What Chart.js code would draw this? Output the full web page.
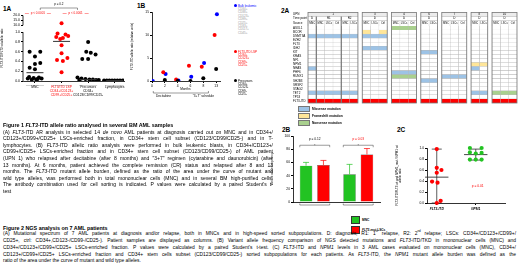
<!DOCTYPE html>
<html>
<head>
<meta charset="utf-8">
<script src="https://cdn.jsdelivr.net/npm/chart.js@4.4.1/dist/chart.umd.min.js"></script>
<style>
  body { margin:0; width:520px; height:268px; position:relative; overflow:hidden; background:#fff;
         font-family:"Liberation Sans", Arial, sans-serif; color:#000; }
  canvas { position:absolute; }
  .lbl { position:absolute; font-weight:bold; font-size:6.5px; line-height:7px; }
  .leg { position:absolute; font-size:3px; line-height:3.4px; white-space:nowrap; }
  .dot { display:inline-block; width:3px; height:3px; border-radius:50%; margin-right:1px; vertical-align:-0.5px; }
  .row { position:absolute; font-size:3.2px; line-height:6px; white-space:nowrap; font-weight:bold; }
  .box { display:inline-block; width:10px; height:4px; border:0.5px solid #777; margin-right:2px; vertical-align:middle; }
  .sq { display:inline-block; width:7px; height:6px; border:0.5px solid #333; margin-right:2px; vertical-align:middle; }
  .cap { position:absolute; font-size:5px; }
  .cap div { text-align:justify; text-align-last:justify; white-space:nowrap; overflow:visible; }
  .cap div.h { text-align-last:left; font-weight:bold; font-size:5.4px; }
  .cap div.e { text-align-last:left; }
  sup { font-size:3px; line-height:0; }
</style>
</head>
<body>
<div class="lbl" style="left:3px;top:5px">1A</div>
<div class="lbl" style="left:137px;top:2px">1B</div>
<div class="lbl" style="left:281px;top:7px">2A</div>
<div class="lbl" style="left:282px;top:126px">2B</div>
<div class="lbl" style="left:397px;top:126px">2C</div>

<canvas id="c1a" width="128" height="100" style="left:0;top:0"></canvas>
<canvas id="c1b" width="100" height="100" style="left:130px;top:0"></canvas>
<canvas id="c2a" width="240" height="110" style="left:280px;top:0"></canvas>
<canvas id="c2b" width="115" height="90" style="left:270px;top:125px"></canvas>
<canvas id="c2c" width="120" height="90" style="left:395px;top:125px"></canvas>

<div class="leg" style="left:234px;top:4px;color:#999">
  <span style="color:#00f"><span class="dot" style="background:#00f"></span>Bulk leukemic</span><br>
  <span style="padding-left:4px">CD34+</span><br><span style="padding-left:4px">CD38+</span><br>
  <span style="padding-left:4px">CD123+</span><br><span style="padding-left:4px">CD99+</span><br>
  <span style="padding-left:4px">CD25+</span><br><span style="padding-left:4px">CD33+</span><br>
  <span style="padding-left:4px">CD117+</span><br><span style="padding-left:4px">CD45+</span>
</div>
<div class="leg" style="left:234px;top:50px;color:#f00">
  <span class="dot" style="background:#f00"></span>FLT3-ITD LSP<br>
  <span style="padding-left:4px">CD34+</span><br><span style="padding-left:4px">CD123+</span><br>
  <span style="padding-left:4px">CD99+</span><br><span style="padding-left:4px">CD25+</span>
</div>
<div class="leg" style="left:234px;top:79px;color:#000">
  <span class="dot" style="background:#000"></span>Precursors<br>
  <span style="padding-left:4px">CD34+</span><br><span style="padding-left:4px">CD123-</span><br>
  <span style="padding-left:4px">CD99-</span><br><span style="padding-left:4px">CD25-</span>
</div>

<div class="row" style="left:298px;top:106px"><span class="box" style="background:#9dc3e6"></span>Missense mutation</div>
<div class="row" style="left:298px;top:113px"><span class="box" style="background:#ffe699"></span>Frameshift mutation</div>
<div class="row" style="left:298px;top:120px"><span class="box" style="background:#a9d08e"></span>Nonsense mutation</div>

<div class="row" style="left:351px;top:216px"><span class="sq" style="background:#22c322"></span>MNC</div>
<div class="row" style="left:351px;top:226px"><span class="sq" style="background:#ff0000"></span><i>FLT3</i>-mut LSCs</div>

<div class="cap" style="left:3px;top:122px;width:270px;line-height:6.6px">
<div class="h">Figure 1 <i>FLT3</i>-ITD allele ratio analysed in several BM AML samples</div>
<div>(A) <i>FLT3</i>-ITD AR analysis in selected 14 <i>de novo</i> AML patients at diagnosis carried out on MNC and in CD34+/</div>
<div>CD123+/CD99+/CD25+ LSCs-enriched fraction, in CD34+ stem cell subset (CD123/CD99/CD25-) and in T-</div>
<div>lymphocytes. (B) <i>FLT3</i>-ITD allelic ratio analysis were performed in bulk leukemic blasts, in CD34+/CD123+/</div>
<div>CD99+/CD25+ LSCs-enriched fraction and in CD34+ stem cell subset (CD123/CD99/CD25-) of AML patient</div>
<div>(UPN 1) who relapsed after decitabine (after 8 months) and "3+7" regimen (cytarabine and daunorubicin) (after</div>
<div>13 months). At 6 months, patient achieved the complete remission (CR) status and relapsed after 8 and 13</div>
<div>months. The <i>FLT3</i>-ITD mutant allele burden, defined as the ratio of the area under the curve of mutant and</div>
<div>wild type alleles, was performed both in total mononuclear cells (MNC) and in several BM high-purified cells.</div>
<div>The antibody combination used for cell sorting is indicated. P values were calculated by a paired Student's t-</div>
<div class="e">test</div>
</div>
<div class="cap" style="left:3px;top:224.5px;width:513px;line-height:6.8px;font-size:4.9px">
<div class="h">Figure 2 NGS analysis on 7 AML patients</div>
<div>(A) Mutational spectrum of 7 AML patients at diagnosis and/or relapse, both in MNCs and in high-speed sorted subpopulations. D: diagnosis, R1: 1<sup>st</sup> relapse, R2: 2<sup>nd</sup> relapse; LSCs: CD34+/CD123+/CD99+/</div>
<div>CD25+, ctrl: CD34+,CD123-/CD99-/CD25-). Patient samples are displayed as columns. (B) Variant allele frequency comparison of NGS detected mutations and <i>FLT3</i>-ITD/TKD in mononuclear cells (MNC) and</div>
<div>CD34+/CD123+/CD99+/CD25+ LSCs-enriched fraction. P values were calculated by a paired Student's t-test. (C) <i>FLT3</i>-ITD and <i>NPM1</i> levels in 3 AML cases evaluated on mononuclear cells (MNC), CD34+/</div>
<div>CD123+/CD99+/CD25+ LSCs-enriched fraction and CD34+ stem cells subset (CD123/CD99/CD25-) sorted subpopulations for each patients. As <i>FLT3</i>-ITD, the <i>NPM1</i> mutant allele burden was defined as the</div>
<div class="e">ratio of the area under the curve of mutant and wild type alleles.</div>
</div>

<script>
Chart.defaults.font.family = '"Liberation Sans", Arial, sans-serif';
Chart.defaults.font.size = 4;
Chart.defaults.color = '#000';
Chart.defaults.animation = false;
Chart.defaults.responsive = false;
Chart.defaults.devicePixelRatio = 1;
Chart.defaults.plugins.legend.display = false;
Chart.defaults.plugins.tooltip.enabled = false;
Chart.defaults.elements.point.borderWidth = 0;

// ---- 1A: FLT3-ITD allelic ratio by population ----
const groups1A = ['MNC', 'FLT3-ITD LSP', 'Precursors', 'Lymphocytes'];
const xLabels1A = [['MNC'], ['FLT3/ITD LSP', 'CD34+/CD123+', 'CD99+/CD25+'], ['Precursors', 'CD34+', 'CD123/CD99/CD25-'], ['Lymphocytes']];
const mnc1A = [0.60, 0.60, 0.50, 0.37, 0.35, 0.27, 0.24, 0.08, 0.07, 0.06, 0.05, 0.05, 0.04, 0.03, 0.03];
const mncJit1A = [-0.2, 0.2, 0, 0.2, 0, -0.2, 0, -0.22, 0.15, -0.05, 0.25, -0.27, 0.1, -0.12, 0.05];
const lsp1A = [12.0, 0.97, 0.95, 0.92, 0.90, 0.88, 0.86, 0.73, 0.57, 0.47, 0.43, 0.41, 0.18];
const lspJit1A = [0, -0.15, 0.15, 0.25, -0.2, 0.05, -0.05, 0, 0, 0.22, -0.17, 0.05, 0];
const pre1A = [0.80, 0.60, 0.58, 0.54, 0.45, 0.45, 0.07, 0.05, 0.04, 0.03, 0.03, 0.02, 0.02, 0.02];
const preJit1A = [0, -0.07, 0.1, 0.28, -0.22, 0, -0.4, -0.25, -0.1, 0.05, 0.18, 0.3, 0.4, -0.33];
const lym1A = [0.01, 0.01, 0.01, 0.01, 0.01, 0.01, 0.01, 0.01, 0.01];
const lymJit1A = [-0.4, -0.3, -0.2, -0.1, 0, 0.1, 0.2, 0.3, 0.4];
const median1A = [0.17, 0.81, 0.03, 0.01];
const yTicks1A = [0, 0.2, 0.4, 0.6, 0.8, 1.0, 10, 15, 20];
const yTickLabels1A = ['0.0', '0.2', '0.4', '0.6', '0.8', '1.0', '10.0', '15.0', '20.0'];

// ---- 1B: UPN 1 follow-up ----
const months1B = ['0', '2', '4', '6', '8', '13'];
const bulk1B = [0, 1.5, 0.1, 0.9, 3.9, 14.5];
const lsp1B = [null, 1.9, 0.3, 3.3, 3.1, 10.0];
const pre1B = [null, 0.2, 0.0, 0.0, 0.6, 2.6];

// ---- 2A: mutational spectrum ----
const genes2A = ['ASXL1', 'BCOR', 'DNMT3A', 'EZH2', 'FLT3', 'IDH2', 'KIT', 'KRAS', 'NF1', 'NPM1', 'NRAS', 'PHF6', 'RUNX1', 'SH2B3', 'SRSF2', 'STAG2', 'TET2', 'TP53', 'FLT3-ITD'];
const colUpn2A = ['1', '1', '1', '1', '1', '1', '3', '3', '3', '4', '4', '4', '6', '6', '7', '7', '7', '8', '8', '10', '10', '10'];
const colTime2A = ['D', 'R1', 'R1', 'R1', 'R2', 'R2', 'D', 'D', 'D', 'D', 'D', 'D', 'D', 'D', 'D', 'D', 'D', 'D', 'D', 'D', 'D', 'D'];
const colSource2A = ['MNC', 'MNC', 'LSCs', 'Ctrl', 'MNC', 'LSCs', 'MNC', 'LSCs', 'Ctrl', 'MNC', 'LSCs', 'Ctrl', 'MNC', 'LSCs', 'MNC', 'LSCs', 'Ctrl', 'MNC', 'LSCs', 'MNC', 'LSCs', 'Ctrl'];
const mutGene2A = ['DNMT3A', 'NRAS', 'TET2', 'BCOR', 'DNMT3A', 'IDH2', 'ASXL1', 'PHF6', 'RUNX1', 'KIT', 'SH2B3', 'RUNX1', 'NPM1', 'NRAS', 'TET2', 'TET2'];
const mutType2A = ['missense', 'missense', 'missense', 'frameshift', 'missense', 'missense', 'nonsense', 'missense', 'nonsense', 'missense', 'missense', 'missense', 'frameshift', 'missense', 'missense', 'nonsense'];
const mutCols2A = [[0, 1, 2, 3, 4, 5], [0], [0, 1, 2, 3, 4, 5], [6, 8], [6, 7, 8], [6, 7, 8], [9, 10, 11], [9, 10, 11], [9, 10, 11], [12, 13], [12, 13], [14, 15, 16], [17, 18], [17], [17, 18], [19, 20, 21]];

// ---- 2B: variant allele frequency ----
const groups2B = ['Other mutations', 'FLT3-ITD/TKD'];
const mnc2B = [55, 42];
const lsc2B = [56, 72];
const mncErr2B = [5, 15];
const lscErr2B = [7, 9];
const pText2B = ['p = 0.12', 'p = 0.03'];

// ---- 2C: FLT3-ITD and NPM1 levels ----
const groups2C = ['FLT3-ITD', 'NPM1'];
const flt3_2C = [0.98, 0.64, 0.60, 0.55, 0.39, 0.37, 0.04, 0.00];
const flt3Jit2C = [0, 0, 0.12, 0, -0.12, 0.02, 0.1, 0];
const npm1_2C = [1.00, 1.00, 0.92, 0.90, 0.91, 0.79, 0.79, 0.79];
const npm1Jit2C = [-0.15, 0.15, -0.15, 0, 0.15, -0.15, 0, 0.15];
const mean2C = [0.47, 0.88];
const sd2C = [0.51, 0.10];

const FONT = '"Liberation Sans", Arial, sans-serif';
function txt(ctx, s, x, y, color, size, align, style) {
  ctx.save();
  ctx.fillStyle = color;
  ctx.font = (style || '') + ' ' + size + 'px ' + FONT;
  ctx.textAlign = align || 'center';
  ctx.textBaseline = 'middle';
  ctx.fillText(s, x, y);
  ctx.restore();
}
function seg(ctx, pts, color, w) {
  ctx.save();
  ctx.strokeStyle = color;
  ctx.lineWidth = w || 0.6;
  ctx.beginPath();
  pts.forEach((p, i) => i ? ctx.lineTo(p[0], p[1]) : ctx.moveTo(p[0], p[1]));
  ctx.stroke();
  ctx.restore();
}
const dots = (vals, jit, i, f) => vals.map((v, k) => ({ x: i + jit[k], y: f ? f(v) : v }));

// 1A ---------------------------------------------------------------
const toAxis1A = v => v <= 1 ? v : 1.14 + (v - 10) * 0.02;
new Chart(document.getElementById('c1a'), {
  type: 'scatter',
  data: { datasets: [
    { data: dots(mnc1A, mncJit1A, 0, toAxis1A), backgroundColor: '#000', pointRadius: 2 },
    { data: dots(lsp1A, lspJit1A, 1, toAxis1A), backgroundColor: '#f00', pointRadius: 2 },
    { data: dots(pre1A, preJit1A, 2, toAxis1A), backgroundColor: '#000', pointRadius: 2 },
    { data: dots(lym1A, lymJit1A, 3, toAxis1A), backgroundColor: '#000', pointRadius: 2 }
  ] },
  options: {
    layout: { padding: { top: 15, right: 3 } },
    scales: {
      x: { type: 'linear', min: -0.45, max: 3.35,
        afterBuildTicks: s => { s.ticks = groups1A.map((g, i) => ({ value: i })); },
        ticks: { callback: (v, i) => xLabels1A[i], color: c => c.index === 1 ? '#f00' : '#000',
                 font: { size: 3.3 }, maxRotation: 0, autoSkip: false, padding: 2 },
        grid: { drawOnChartArea: false, tickLength: 2, color: '#000' },
        border: { color: '#000', width: 0.8 },
        afterFit: s => { s.height = 19; } },
      y: { min: 0, max: 1.35,
        afterBuildTicks: s => { s.ticks = yTicks1A.map(v => ({ value: toAxis1A(v) })); },
        ticks: { callback: (v, i) => yTickLabels1A[i], font: { size: 3.5 }, padding: 1 },
        grid: { drawOnChartArea: false, tickLength: 2, color: '#000' },
        border: { display: false },
        title: { display: true, text: 'FLT3-ITD/FLT3 wt allelic ratio', font: { size: 3 }, padding: 0 },
        afterFit: s => { s.width = 23; } }
    }
  },
  plugins: [{ id: 'deco1A', afterDraw(chart) {
    const { ctx, chartArea: ca, scales: { x, y } } = chart;
    seg(ctx, [[ca.left, y.getPixelForValue(0)], [ca.left, y.getPixelForValue(1)]], '#000', 0.8);
    seg(ctx, [[ca.left, y.getPixelForValue(toAxis1A(10))], [ca.left, y.getPixelForValue(toAxis1A(20))]], '#000', 0.8);
    median1A.forEach((m, i) => {
      const py = y.getPixelForValue(toAxis1A(m));
      seg(ctx, [[x.getPixelForValue(i - 0.32), py], [x.getPixelForValue(i + 0.32), py]], '#333', 1);
    });
    const a = x.getPixelForValue(0.2), b = x.getPixelForValue(1.6);
    seg(ctx, [[a, 10], [a, 8], [b, 8], [b, 10]], '#000', 0.4);
    txt(ctx, 'p = 0.2', (a + b) / 2, 4.5, '#000', 3);
    [0.11, 1.53].forEach(u => {
      const cx = x.getPixelForValue(u);
      txt(ctx, 'p < 0.0001', cx, 13.5, '#f00', 3);
      seg(ctx, [[cx - 13, 13.5], [cx - 9, 13.5]], '#f00', 0.4);
      seg(ctx, [[cx + 9, 13.5], [cx + 13, 13.5]], '#f00', 0.4);
    });
    groups1A.forEach((g, i) => {
      const cx = x.getPixelForValue(i);
      seg(ctx, [[cx - 9, ca.bottom + 4.5], [cx + 9, ca.bottom + 4.5]], '#666', 0.3);
    });
  } }]
});

// 1B ---------------------------------------------------------------
const series1B = (vals, off) => vals.map((v, i) => v === null ? null : { x: i + off, y: v }).filter(p => p);
new Chart(document.getElementById('c1b'), {
  type: 'scatter',
  data: { datasets: [
    { data: series1B(pre1B, 0), backgroundColor: '#000', pointRadius: 2 },
    { data: series1B(lsp1B, -0.12), backgroundColor: '#f00', pointRadius: 2 },
    { data: series1B(bulk1B, 0.06), backgroundColor: '#00f', pointRadius: 2 }
  ] },
  options: {
    layout: { padding: { top: 12, right: 10 } },
    scales: {
      x: { type: 'linear', min: 0, max: 5.3,
        afterBuildTicks: s => { s.ticks = months1B.map((m, i) => ({ value: i })); },
        ticks: { callback: (v, i) => months1B[i], font: { size: 3.3 }, maxRotation: 0, padding: 1.5 },
        grid: { drawOnChartArea: false, tickLength: 2, color: '#000' },
        border: { color: '#000', width: 0.8 },
        afterFit: s => { s.height = 19; } },
      y: { min: 0, max: 15, ticks: { stepSize: 5, font: { size: 3.3 }, padding: 1 },
        grid: { drawOnChartArea: false, tickLength: 2, color: '#000' },
        border: { color: '#000', width: 0.8 },
        title: { display: true, text: 'FLT3-ITD allelic ratio (relative units)', font: { size: 3 }, padding: 0 },
        afterFit: s => { s.width = 22; } }
    }
  },
  plugins: [{ id: 'deco1B', afterDraw(chart) {
    const { ctx, chartArea: ca, scales: { x } } = chart;
    txt(ctx, 'Months', x.getPixelForValue(2.6), ca.bottom + 8.5, '#000', 3.2);
    const a = x.getPixelForValue(0.1), b = x.getPixelForValue(4.4);
    seg(ctx, [[a, ca.bottom + 10], [a, ca.bottom + 12], [b, ca.bottom + 12], [b, ca.bottom + 10]], '#000', 0.4);
    txt(ctx, 'Decitabine', x.getPixelForValue(0.9), ca.bottom + 15.5, '#000', 3.2);
    txt(ctx, '"3+7" schedule', x.getPixelForValue(4.0), ca.bottom + 15.5, '#000', 3.2);
  } }]
});

// 2A ---------------------------------------------------------------
const typeColor2A = { missense: '#9dc3e6', frameshift: '#ffe699', nonsense: '#a9d08e' };
const colStart2A = [];
let pos2A = 0;
colUpn2A.forEach((u, i) => { if (i > 0 && u !== colUpn2A[i - 1]) pos2A += 0.52; colStart2A.push(pos2A); pos2A += 1; });
function cellColor2A(gene, c) {
  if (gene === 'FLT3-ITD') return '#ff0000';
  for (let k = 0; k < mutGene2A.length; k++) {
    if (mutGene2A[k] === gene && mutCols2A[k].includes(c)) return typeColor2A[mutType2A[k]];
  }
  return '#ffffff';
}
function runs(keyFn) {
  const out = [];
  colUpn2A.forEach((u, i) => {
    const k = keyFn(i);
    if (out.length && out[out.length - 1].key === k) out[out.length - 1].last = i;
    else out.push({ key: k, first: i, last: i });
  });
  return out;
}
new Chart(document.getElementById('c2a'), {
  type: 'bar',
  data: {
    labels: genes2A,
    datasets: colUpn2A.map((u, c) => ({
      data: genes2A.map(() => [colStart2A[c], colStart2A[c] + 1]),
      backgroundColor: genes2A.map(g => cellColor2A(g, c)),
      borderColor: '#b5b5b5', borderWidth: 0.4, borderSkipped: false,
      grouped: false, barPercentage: 1, categoryPercentage: 1
    }))
  },
  options: {
    indexAxis: 'y',
    layout: { padding: { left: 13, top: 26, right: 3, bottom: 7 } },
    scales: {
      x: { type: 'linear', min: 0, max: pos2A, display: false },
      y: { ticks: { font: { size: 3 }, crossAlign: 'far', padding: 0, autoSkip: false },
           grid: { display: false }, border: { display: false },
           afterFit: s => { s.width = 15; } }
    }
  },
  plugins: [{ id: 'head2A', afterDraw(chart) {
    const { ctx, chartArea: ca, scales: { x } } = chart;
    const px = c => x.getPixelForValue(colStart2A[c]);
    const pxe = c => x.getPixelForValue(colStart2A[c] + 1);
    const rows = [ca.top - 13.5, ca.top - 9.5, ca.top - 5.5, ca.top];
    txt(ctx, 'UPN', ca.left - 15, (rows[0] + rows[1]) / 2, '#000', 3, 'left');
    txt(ctx, 'Time point', ca.left - 15, (rows[1] + rows[2]) / 2, '#000', 3, 'left');
    txt(ctx, 'Source', ca.left - 15, (rows[2] + rows[3]) / 2, '#000', 3, 'left');
    ctx.save();
    runs(i => colUpn2A[i]).forEach(r => {
      ctx.fillStyle = '#ececec';
      ctx.fillRect(px(r.first), rows[0], pxe(r.last) - px(r.first), rows[1] - rows[0]);
      txt(ctx, r.key, (px(r.first) + pxe(r.last)) / 2, (rows[0] + rows[1]) / 2, '#000', 3);
    });
    runs(i => colUpn2A[i] + '|' + colTime2A[i]).forEach(r => {
      txt(ctx, colTime2A[r.first], (px(r.first) + pxe(r.last)) / 2, (rows[1] + rows[2]) / 2, '#000', 3);
      seg(ctx, [[px(r.first), rows[1]], [pxe(r.last), rows[1]]], '#999', 0.4);
      if (r.first > 0 && colUpn2A[r.first - 1] === colUpn2A[r.first])
        seg(ctx, [[px(r.first), rows[1]], [px(r.first), ca.bottom]], '#777', 1.2);
    });
    colSource2A.forEach((s, c) => {
      txt(ctx, s, (px(c) + pxe(c)) / 2, (rows[2] + rows[3]) / 2, '#000', 2.6);
      seg(ctx, [[px(c), rows[2]], [pxe(c), rows[2]]], '#999', 0.4);
      seg(ctx, [[px(c), rows[2]], [px(c), rows[3]]], '#bbb', 0.4);
    });
    runs(i => colUpn2A[i]).forEach(r => {
      ctx.strokeStyle = '#777';
      ctx.lineWidth = 0.8;
      ctx.strokeRect(px(r.first), rows[0], pxe(r.last) - px(r.first), ca.bottom - rows[0]);
    });
    ctx.restore();
  } }]
});

// 2B ---------------------------------------------------------------
new Chart(document.getElementById('c2b'), {
  type: 'bar',
  data: { labels: groups2B, datasets: [
    { label: 'MNC', data: mnc2B, backgroundColor: '#22c322', borderColor: '#222', borderWidth: 0.4 },
    { label: 'FLT3-mut LSCs', data: lsc2B, backgroundColor: '#ff0000', borderColor: '#222', borderWidth: 0.4 }
  ] },
  options: {
    categoryPercentage: 0.8, barPercentage: 0.72,
    layout: { padding: { top: 11, right: 5 } },
    scales: {
      x: { ticks: { font: { size: 3.3, weight: 'bold' }, padding: 6 },
           grid: { display: false }, border: { color: '#000', width: 0.8 },
           afterFit: s => { s.height = 13; } },
      y: { min: 0, max: 100, ticks: { stepSize: 20, font: { size: 3.3 }, padding: 1 },
           grid: { drawOnChartArea: false, tickLength: 2, color: '#000' },
           border: { color: '#000', width: 0.8 },
           title: { display: true, text: 'Variant allele frequency', font: { size: 3.2 }, padding: 0 },
           afterFit: s => { s.width = 23; } }
    }
  },
  plugins: [{ id: 'err2B', afterDatasetsDraw(chart) {
    const { ctx, chartArea: ca, scales: { y } } = chart;
    [mncErr2B, lscErr2B].forEach((errs, d) => {
      const vals = d ? lsc2B : mnc2B;
      chart.getDatasetMeta(d).data.forEach((bar, i) => {
        const top = y.getPixelForValue(vals[i] + errs[i]);
        seg(ctx, [[bar.x, bar.y], [bar.x, top]], d ? '#f00' : '#22c322', 0.7);
        seg(ctx, [[bar.x - 3, top], [bar.x + 3, top]], d ? '#f00' : '#22c322', 0.7);
      });
    });
    groups2B.forEach((g, i) => {
      const b0 = chart.getDatasetMeta(0).data[i], b1 = chart.getDatasetMeta(1).data[i];
      const l = b0.x - b0.width / 2, r = b1.x + b1.width / 2, yb = y.getPixelForValue(86);
      seg(ctx, [[l, yb + 2], [l, yb], [r, yb], [r, yb + 2]], '#000', 0.4);
      seg(ctx, [[(l + r) / 2, yb], [(l + r) / 2, yb - 1.2]], '#000', 0.4);
      txt(ctx, pText2B[i], (l + r) / 2, y.getPixelForValue(95), i ? '#f00' : '#000', 3.2);
      const yu = ca.bottom + 3;
      seg(ctx, [[l, yu - 1.5], [l, yu], [r, yu], [r, yu - 1.5]], '#000', 0.4);
    });
  } }]
});

// 2C ---------------------------------------------------------------
new Chart(document.getElementById('c2c'), {
  type: 'scatter',
  data: { datasets: [
    { data: dots(flt3_2C, flt3Jit2C, 0), backgroundColor: '#f00', pointRadius: 2.1, clip: false },
    { data: dots(npm1_2C, npm1Jit2C, 1), backgroundColor: '#22c322', pointRadius: 2.1, clip: false }
  ] },
  options: {
    layout: { padding: { top: 23, right: 10 } },
    scales: {
      x: { type: 'linear', min: -0.25, max: 1.75,
        afterBuildTicks: s => { s.ticks = groups2C.map((g, i) => ({ value: i })); },
        ticks: { callback: (v, i) => groups2C[i], font: { size: 3.3, style: 'italic', weight: 'bold' }, padding: 2 },
        grid: { drawOnChartArea: false, tickLength: 2, color: '#000' },
        border: { color: '#000', width: 0.8 },
        afterFit: s => { s.height = 12; } },
      y: { min: 0, max: 1.0, ticks: { stepSize: 0.2, font: { size: 3.3 }, padding: 1,
             callback: v => v.toFixed(1) },
        grid: { drawOnChartArea: false, tickLength: 2, color: '#000' },
        border: { color: '#000', width: 0.8 },
        title: { display: true, text: ['FLT3-ITD/FLT3 wt and NPM1_mut / NPM1 wt', 'allelic ratio'], font: { size: 3 }, padding: 0 },
        afterFit: s => { s.width = 32; } }
    }
  },
  plugins: [{ id: 'deco2C', beforeDatasetsDraw(chart) {
    const { ctx, scales: { x, y } } = chart;
    mean2C.forEach((m, i) => {
      const cx = x.getPixelForValue(i), py = y.getPixelForValue(m);
      const t = y.getPixelForValue(Math.min(m + sd2C[i], 1.0)), b = y.getPixelForValue(Math.max(m - sd2C[i], 0));
      seg(ctx, [[x.getPixelForValue(i - 0.3), py], [x.getPixelForValue(i + 0.3), py]], '#333', 0.9);
      seg(ctx, [[cx, t], [cx, b]], '#333', 0.8);
      seg(ctx, [[cx - 5, t], [cx + 5, t]], '#333', 0.8);
      seg(ctx, [[cx - 5, b], [cx + 5, b]], '#333', 0.8);
    });
  }, afterDraw(chart) {
    const { ctx, scales: { x, y } } = chart;
    txt(ctx, 'p = 0.01', x.getPixelForValue(1.05), y.getPixelForValue(0.31), '#f00', 3.3);
  } }]
});
</script>
</body>
</html>
